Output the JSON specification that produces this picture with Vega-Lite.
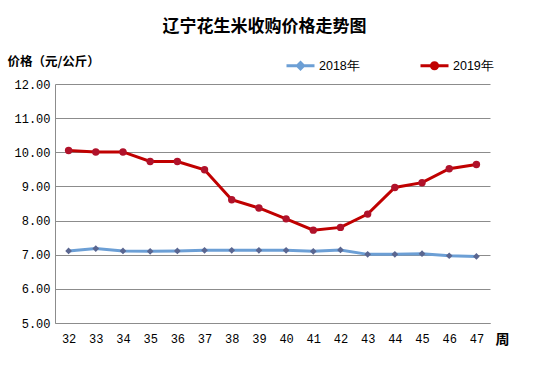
{
  "$schema": "https://vega.github.io/schema/vega-lite/v6.json",
  "width": 435,
  "height": 239,
  "autosize": "none",
  "padding": {"left": 55, "top": 84, "right": 68, "bottom": 49},
  "background": "white",
  "title": {
    "text": "辽宁花生米收购价格走势图",
    "font": "Noto Sans CJK SC",
    "fontSize": 17,
    "fontWeight": "bold",
    "color": "#000000",
    "anchor": "middle",
    "dx": -8,
    "offset": 14
  },
  "data": {
    "values": [
      {"week": "32", "year": "2018年", "price": 7.11},
      {"week": "33", "year": "2018年", "price": 7.18},
      {"week": "34", "year": "2018年", "price": 7.11},
      {"week": "35", "year": "2018年", "price": 7.10},
      {"week": "36", "year": "2018年", "price": 7.11},
      {"week": "37", "year": "2018年", "price": 7.13},
      {"week": "38", "year": "2018年", "price": 7.13},
      {"week": "39", "year": "2018年", "price": 7.13},
      {"week": "40", "year": "2018年", "price": 7.13},
      {"week": "41", "year": "2018年", "price": 7.10},
      {"week": "42", "year": "2018年", "price": 7.14},
      {"week": "43", "year": "2018年", "price": 7.01},
      {"week": "44", "year": "2018年", "price": 7.01},
      {"week": "45", "year": "2018年", "price": 7.03},
      {"week": "46", "year": "2018年", "price": 6.97},
      {"week": "47", "year": "2018年", "price": 6.95},
      {"week": "32", "year": "2019年", "price": 10.05},
      {"week": "33", "year": "2019年", "price": 10.01},
      {"week": "34", "year": "2019年", "price": 10.01},
      {"week": "35", "year": "2019年", "price": 9.73},
      {"week": "36", "year": "2019年", "price": 9.73},
      {"week": "37", "year": "2019年", "price": 9.49},
      {"week": "38", "year": "2019年", "price": 8.61},
      {"week": "39", "year": "2019年", "price": 8.37},
      {"week": "40", "year": "2019年", "price": 8.05},
      {"week": "41", "year": "2019年", "price": 7.72},
      {"week": "42", "year": "2019年", "price": 7.80},
      {"week": "43", "year": "2019年", "price": 8.19},
      {"week": "44", "year": "2019年", "price": 8.97},
      {"week": "45", "year": "2019年", "price": 9.11},
      {"week": "46", "year": "2019年", "price": 9.52},
      {"week": "47", "year": "2019年", "price": 9.64}
    ]
  },
  "encoding": {
    "x": {
      "field": "week",
      "type": "ordinal",
      "sort": null,
      "axis": {
        "title": "周",
        "titleFont": "Noto Sans CJK SC",
        "titleFontSize": 14,
        "titleFontWeight": "bold",
        "titleColor": "#000000",
        "titleX": 447,
        "titleY": 16,
        "titleAlign": "center",
        "titleBaseline": "middle",
        "labelAngle": 0,
        "labelFont": "Liberation Mono",
        "labelFontSize": 12,
        "labelColor": "#000000",
        "labelPadding": 10,
        "ticks": false,
        "domainColor": "#8c8c8c",
        "grid": false
      }
    },
    "y": {
      "field": "price",
      "type": "quantitative",
      "scale": {"domain": [5, 12], "nice": false, "zero": false},
      "axis": {
        "values": [5, 6, 7, 8, 9, 10, 11, 12],
        "format": ".2f",
        "title": "价格（元/公斤）",
        "titleFont": "Noto Sans CJK SC",
        "titleFontSize": 12.5,
        "titleFontWeight": "bold",
        "titleColor": "#000000",
        "titleAngle": 0,
        "titleAlign": "left",
        "titleBaseline": "middle",
        "titleX": -48,
        "titleY": -23,
        "labelFont": "Liberation Mono",
        "labelFontSize": 12,
        "labelColor": "#000000",
        "labelPadding": 5,
        "ticks": false,
        "domainColor": "#8c8c8c",
        "grid": true,
        "gridColor": "#8c8c8c",
        "gridWidth": 1
      }
    }
  },
  "layer": [
    {
      "mark": {"type": "line", "strokeWidth": 3},
      "encoding": {
        "color": {
          "field": "year",
          "type": "nominal",
          "scale": {"domain": ["2018年", "2019年"], "range": ["#6C9FD5", "#C00000"]},
          "legend": {
            "title": null,
            "orient": "none",
            "direction": "horizontal",
            "legendX": 230,
            "legendY": -34,
            "symbolSize": 784,
            "symbolStrokeWidth": 3,
            "labelFont": "Liberation Sans",
            "labelFontSize": 12.5,
            "labelColor": "#000000",
            "labelOffset": 3,
            "columnPadding": 54,
            "encode": {
              "symbols": {
                "update": {
                  "shape": {"signal": "datum.value === '2018年' ? 'M-1,0H1M0,-0.22L0.22,0L0,0.22L-0.22,0Z' : 'M-1,0H1M-0.22,0A0.22,0.22 0 1,0 0.22,0A0.22,0.22 0 1,0 -0.22,0Z'"},
                  "fill": {"signal": "datum.value === '2018年' ? '#5A6690' : '#B0122A'"}
                }
              }
            }
          }
        }
      }
    },
    {
      "mark": {"type": "point", "filled": true, "opacity": 1},
      "encoding": {
        "color": {
          "field": "year",
          "type": "nominal",
          "scale": {"domain": ["2018年", "2019年"], "range": ["#5A6690", "#B0122A"]},
          "legend": null
        },
        "shape": {
          "field": "year",
          "type": "nominal",
          "scale": {"domain": ["2018年", "2019年"], "range": ["diamond", "circle"]},
          "legend": null
        },
        "size": {
          "field": "year",
          "type": "nominal",
          "scale": {"domain": ["2018年", "2019年"], "range": [45, 55]},
          "legend": null
        }
      }
    }
  ],
  "resolve": {"scale": {"color": "independent"}},
  "config": {
    "view": {"stroke": null}
  }
}
